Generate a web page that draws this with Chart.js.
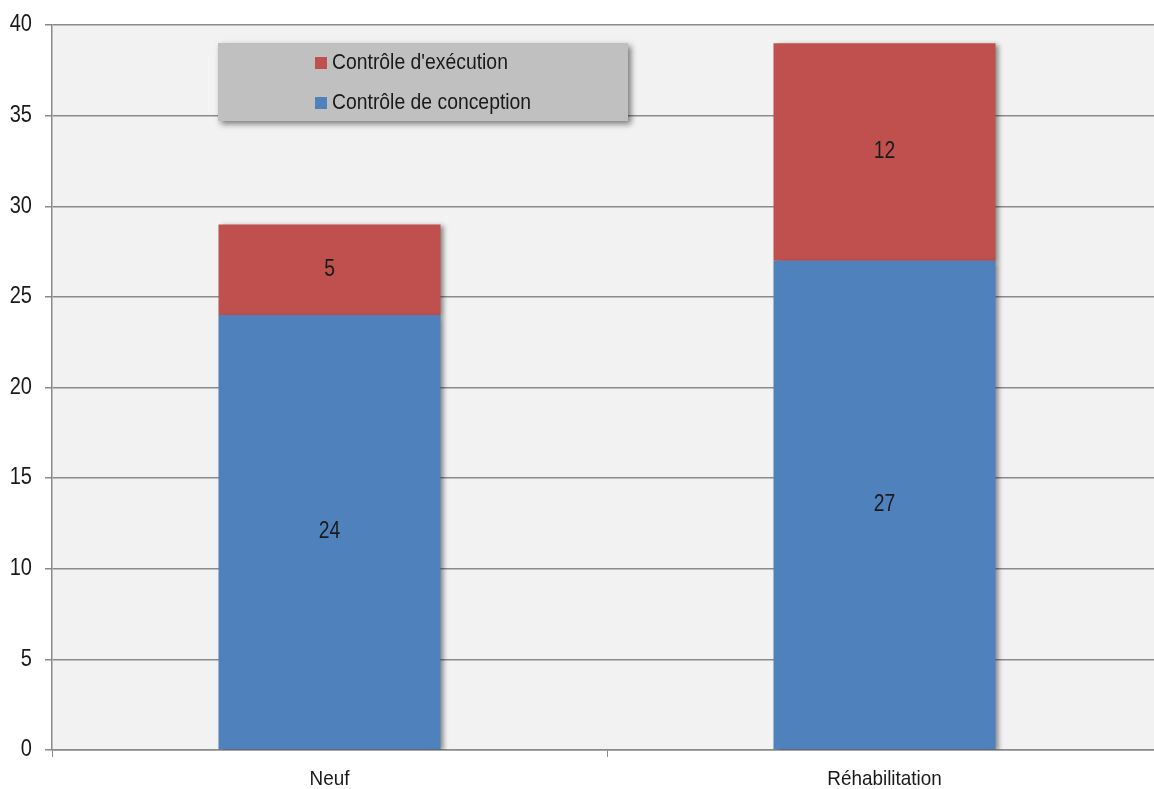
<!DOCTYPE html>
<html>
<head>
<meta charset="utf-8">
<script src="https://cdn.jsdelivr.net/npm/chart.js@4/dist/chart.umd.min.js"></script>
<style>
  html, body { margin: 0; padding: 0; background: #ffffff; overflow: hidden; }
  #wrap { position: relative; width: 1162px; height: 789px; }
</style>
</head>
<body>
<div id="wrap"><canvas id="chart"></canvas></div>
<script>
// Nombre de contrôles par type d'opération
const categories = ['Neuf', 'Réhabilitation'];
const controleConception = [24, 27];
const controleExecution = [5, 12];
const yTicks = [0, 5, 10, 15, 20, 25, 30, 35, 40];

const FONT = "'Liberation Sans', Arial, sans-serif";
const TEXT = '#1a1a1a';
const BLUE = '#4f81bd';
const RED = '#c0504d';

// Texte étroit : police sans-serif resserrée horizontalement
function narrowText(ctx, text, x, y, size, squeeze, align) {
  ctx.save();
  ctx.font = size + 'px ' + FONT;
  ctx.fillStyle = TEXT;
  ctx.textBaseline = 'middle';
  ctx.textAlign = align;
  ctx.translate(x, y);
  ctx.scale(squeeze, 1);
  ctx.fillText(text, 0, 0);
  ctx.restore();
}

// Fond gris clair de la zone de tracé
const plotBackground = {
  id: 'plotBackground',
  beforeDraw(chart) {
    const { ctx, chartArea: a } = chart;
    ctx.save();
    ctx.fillStyle = '#f2f2f2';
    ctx.fillRect(a.left, a.top, a.right - a.left, a.bottom - a.top);
    ctx.restore();
  }
};

// Ombre portée sous les barres
const barShadow = {
  id: 'barShadow',
  beforeDatasetsDraw(chart) {
    const ctx = chart.ctx;
    ctx.save();
    ctx.shadowColor = 'rgba(0,0,0,0.45)';
    ctx.shadowBlur = 5;
    ctx.shadowOffsetX = 3;
    ctx.shadowOffsetY = 2;
  },
  afterDatasetsDraw(chart) {
    chart.ctx.restore();
  }
};

// Valeurs inscrites au centre de chaque segment
const segmentLabels = {
  id: 'segmentLabels',
  afterDatasetsDraw(chart) {
    chart.data.datasets.forEach((ds, i) => {
      chart.getDatasetMeta(i).data.forEach((bar, j) => {
        const cy = (bar.y + bar.base) / 2;
        narrowText(chart.ctx, String(ds.data[j]), bar.x, cy, 23, 0.84, 'center');
      });
    });
  }
};

// Libellés des axes en caractères étroits
const axisLabels = {
  id: 'axisLabels',
  afterDraw(chart) {
    const ctx = chart.ctx;
    const y = chart.scales.y, x = chart.scales.x;
    y.ticks.forEach(t => {
      narrowText(ctx, String(t.value), 32, y.getPixelForValue(t.value), 23, 0.87, 'right');
    });
    categories.forEach((c, i) => {
      narrowText(ctx, c, x.getPixelForTick(i), x.bottom - 10, 21, 0.9, 'center');
    });
  }
};

// Légende encadrée posée sur la zone de tracé
const boxedLegend = {
  id: 'boxedLegend',
  afterDraw(chart) {
    const { ctx, chartArea: a } = chart;
    const x = a.left + 166, y = a.top + 18, w = 410, h = 78;
    ctx.save();
    ctx.shadowColor = 'rgba(0,0,0,0.5)';
    ctx.shadowBlur = 6;
    ctx.shadowOffsetX = 3;
    ctx.shadowOffsetY = 3;
    ctx.fillStyle = '#c0c0c0';
    ctx.fillRect(x, y, w, h);
    ctx.restore();

    const items = chart.data.datasets.slice().reverse();
    items.forEach((ds, k) => {
      const cy = y + 20 + k * 40;
      ctx.fillStyle = ds.backgroundColor;
      ctx.fillRect(x + 97, cy - 6, 12, 12);
      narrowText(ctx, ds.label, x + 114, cy, 22, 0.88, 'left');
    });
  }
};

new Chart(document.getElementById('chart'), {
  type: 'bar',
  data: {
    labels: categories,
    datasets: [
      { label: 'Contrôle de conception', data: controleConception, backgroundColor: BLUE },
      { label: "Contrôle d'exécution", data: controleExecution, backgroundColor: RED }
    ]
  },
  options: {
    responsive: true,
    maintainAspectRatio: false,
    animation: false,
    layout: { padding: { top: 25, right: 0, left: 0, bottom: 0 } },
    datasets: { bar: { barPercentage: 0.4, categoryPercentage: 1.0 } },
    plugins: {
      legend: { display: false },
      tooltip: { enabled: false }
    },
    scales: {
      x: {
        stacked: true,
        grid: { offset: true, drawOnChartArea: false, color: '#8a8a8a', tickLength: 7, lineWidth: 1 },
        border: { color: '#8a8a8a', width: 1.5 },
        ticks: { color: 'rgba(0,0,0,0)', font: { family: FONT, size: 21 }, padding: 4 },
        afterFit(scale) { scale.height = 39; }
      },
      y: {
        stacked: true,
        min: 0,
        max: 40,
        afterBuildTicks(scale) { scale.ticks = yTicks.map(v => ({ value: v })); },
        grid: { color: '#8a8a8a', lineWidth: 1.5, tickLength: 7 },
        border: { color: '#8a8a8a', width: 1.5 },
        ticks: { color: 'rgba(0,0,0,0)', font: { family: FONT, size: 21 }, padding: 12 },
        afterFit(scale) { scale.width = 52; }
      }
    }
  },
  plugins: [plotBackground, barShadow, segmentLabels, axisLabels, boxedLegend]
});
</script>
</body>
</html>
